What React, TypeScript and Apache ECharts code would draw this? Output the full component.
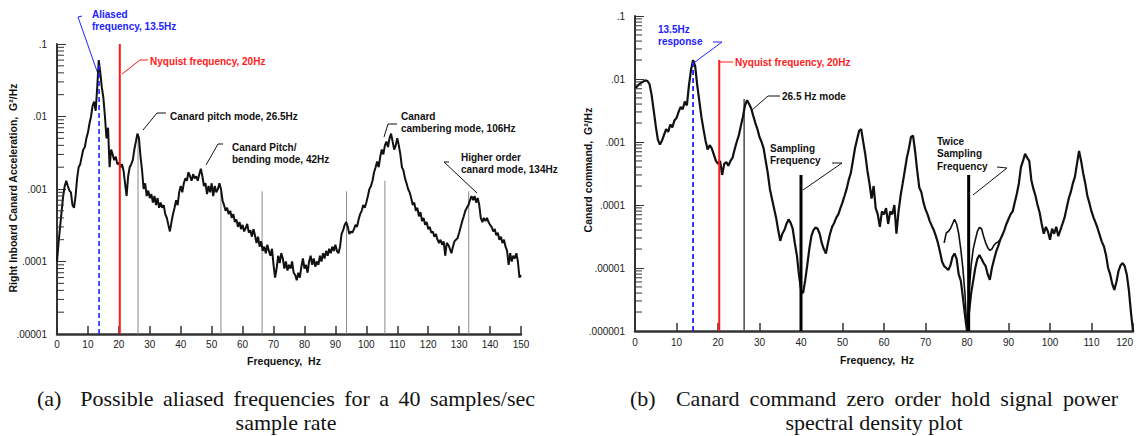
import React, { useEffect, useRef } from "react";
import * as echarts from "echarts";

// ---------------- DATA ----------------
// Uniform PSD frequency grid (Hz)
const FREQ_STEP = 0.5;

// (a) Right inboard canard acceleration PSD, G^2/Hz, 0..150 Hz every 0.5 Hz
const psdA = [
  1.0e-4, 1.8e-4, 3.0e-4, 5.0e-4, 8.0e-4, 1.1e-3, 1.3e-3, 1.1e-3, 9.5e-4, 9.0e-4, 6.0e-4, 5.5e-4, 8.0e-4, 1.4e-3, 2.0e-3, 2.2e-3, 2.8e-3, 3.5e-3, 3.8e-3, 5.0e-3, 6.0e-3,
  8.0e-3, 1.0e-2, 1.4e-2, 1.6e-2, 1.2e-2, 2.5e-2, 6.0e-2, 4.0e-2, 2.5e-2, 1.8e-2, 1.0e-2, 5.0e-3, 7.0e-3, 2.0e-3, 3.5e-3, 3.0e-3, 2.5e-3, 2.8e-3, 2.2e-3, 2.3e-3,
  2.0e-3, 2.2e-3, 1.8e-3, 1.2e-3, 8.0e-4, 1.5e-3, 2.0e-3, 2.2e-3, 2.5e-3, 3.5e-3, 4.5e-3, 5.8e-3, 5.0e-3, 2.8e-3, 1.8e-3, 1.0e-3, 1.2e-3, 8.0e-4, 9.5e-4, 7.5e-4,
  8.5e-4, 6.5e-4, 8.0e-4, 6.0e-4, 7.5e-4, 5.5e-4, 6.5e-4, 5.5e-4, 6.0e-4, 4.5e-4, 4.0e-4, 3.2e-4, 2.6e-4, 3.5e-4, 4.5e-4, 5.5e-4, 7.0e-4, 6.0e-4, 9.0e-4, 1.1e-3,
  9.0e-4, 1.2e-3, 1.4e-3, 1.3e-3, 1.7e-3, 1.5e-3, 1.3e-3, 1.6e-3, 1.4e-3, 1.5e-3, 1.3e-3, 1.6e-3, 1.9e-3, 1.5e-3, 1.1e-3, 1.2e-3, 8.5e-4, 1.1e-3, 9.0e-4, 1.2e-3,
  8.0e-4, 1.1e-3, 9.0e-4, 1.0e-3, 1.2e-3, 1.0e-3, 7.0e-4, 6.0e-4, 5.0e-4, 5.5e-4, 4.5e-4, 5.0e-4, 4.0e-4, 4.5e-4, 3.5e-4, 3.8e-4, 3.0e-4, 3.5e-4, 2.8e-4, 3.2e-4,
  2.6e-4, 2.9e-4, 3.3e-4, 2.5e-4, 2.7e-4, 2.2e-4, 2.8e-4, 2.3e-4, 1.8e-4, 2.2e-4, 1.6e-4, 1.9e-4, 1.4e-4, 1.6e-4, 1.3e-4, 1.7e-4, 1.4e-4, 1.2e-4, 1.5e-4, 9.0e-5,
  6.0e-5, 8.0e-5, 1.2e-4, 9.5e-5, 1.3e-4, 1.1e-4, 8.0e-5, 1.0e-4, 7.5e-5, 9.0e-5, 8.0e-5, 1.0e-4, 7.0e-5, 6.5e-5, 5.5e-5, 7.0e-5, 6.0e-5, 8.5e-5, 1.1e-4, 8.0e-5,
  9.0e-5, 7.0e-5, 1.0e-4, 1.2e-4, 9.0e-5, 1.1e-4, 8.5e-5, 1.0e-4, 9.0e-5, 1.2e-4, 1.0e-4, 1.3e-4, 1.1e-4, 1.4e-4, 1.2e-4, 1.5e-4, 1.3e-4, 1.6e-4, 1.4e-4, 1.7e-4,
  1.4e-4, 1.3e-4, 1.6e-4, 2.4e-4, 2.7e-4, 3.2e-4, 3.5e-4, 3.0e-4, 2.4e-4, 2.6e-4, 2.5e-4, 2.8e-4, 3.2e-4, 3.0e-4, 3.8e-4, 4.5e-4, 5.0e-4, 6.0e-4, 5.5e-4, 6.5e-4,
  8.0e-4, 1.0e-3, 1.1e-3, 1.3e-3, 1.7e-3, 2.0e-3, 2.4e-3, 2.0e-3, 2.8e-3, 3.5e-3, 3.0e-3, 4.0e-3, 4.5e-3, 3.8e-3, 5.0e-3, 5.8e-3, 4.5e-3, 3.5e-3, 4.0e-3, 5.0e-3,
  4.0e-3, 3.0e-3, 2.0e-3, 1.8e-3, 1.4e-3, 1.2e-3, 1.0e-3, 9.0e-4, 7.5e-4, 6.0e-4, 6.5e-4, 5.0e-4, 5.5e-4, 4.2e-4, 4.8e-4, 3.6e-4, 4.0e-4, 3.2e-4, 3.5e-4, 2.8e-4,
  3.0e-4, 2.5e-4, 2.6e-4, 2.2e-4, 2.4e-4, 2.0e-4, 1.8e-4, 2.0e-4, 1.7e-4, 1.9e-4, 1.2e-4, 1.8e-4, 1.7e-4, 1.5e-4, 1.3e-4, 1.6e-4, 1.9e-4, 2.0e-4, 2.1e-4, 2.5e-4,
  3.0e-4, 3.6e-4, 4.2e-4, 5.0e-4, 5.5e-4, 6.0e-4, 7.0e-4, 8.0e-4, 7.0e-4, 8.0e-4, 6.5e-4, 7.5e-4, 6.0e-4, 4.0e-4, 3.5e-4, 4.0e-4, 3.6e-4, 4.0e-4, 3.5e-4, 3.2e-4,
  3.0e-4, 2.6e-4, 2.8e-4, 2.3e-4, 2.5e-4, 2.0e-4, 2.2e-4, 1.8e-4, 2.0e-4, 1.6e-4, 1.4e-4, 9.0e-5, 1.3e-4, 1.0e-4, 1.2e-4, 1.1e-4, 1.3e-4, 1.0e-4, 6.0e-5, 6.5e-5,
];

// (b) Canard command PSD, 0..120 Hz every 0.5 Hz
const psdB = [
  7.1e-3, 7.6e-3, 8.3e-3, 8.7e-3, 9.1e-3, 9.5e-3, 9.3e-3, 8.3e-3, 5.6e-3, 3.2e-3, 1.8e-3, 1.1e-3, 9.1e-4, 1.05e-3, 1.3e-3, 1.6e-3, 1.45e-3, 1.9e-3, 1.7e-3, 2.2e-3, 2.4e-3,
  3.0e-3, 3.6e-3, 3.3e-3, 4.4e-3, 3.8e-3, 7.9e-3, 1.4e-2, 2.0e-2, 1.6e-2, 7.9e-3, 4.5e-3, 2.5e-3, 1.6e-3, 1.05e-3, 7.6e-4, 8.9e-4, 7.9e-4, 6.3e-4, 5.0e-4, 4.5e-4,
  5.0e-4, 3.0e-4, 4.5e-4, 4.8e-4, 4.2e-4, 5.0e-4, 5.6e-4, 7.6e-4, 1.0e-3, 1.26e-3, 1.8e-3, 2.5e-3, 3.8e-3, 4.6e-3, 4.0e-3, 3.4e-3, 2.6e-3, 2.0e-3, 1.6e-3, 1.2e-3,
  1.0e-3, 7.9e-4, 5.0e-4, 3.2e-4, 1.8e-4, 1.26e-4, 8.9e-5, 6.3e-5, 4.0e-5, 2.7e-5, 3.5e-5, 4.0e-5, 5.0e-5, 5.9e-5, 5.2e-5, 4.2e-5, 2.5e-5, 1.6e-5, 7.9e-6, 4.5e-6,
  4.0e-6, 6.3e-6, 1.1e-5, 2.0e-5, 3.2e-5, 4.0e-5, 4.4e-5, 4.2e-5, 3.5e-5, 2.5e-5, 2.0e-5, 1.7e-5, 2.5e-5, 3.5e-5, 4.5e-5, 5.2e-5, 6.3e-5, 7.1e-5, 8.9e-5, 1.1e-4,
  1.4e-4, 1.8e-4, 2.5e-4, 3.2e-4, 5.0e-4, 7.9e-4, 1.1e-3, 1.5e-3, 1.6e-3, 1.0e-3, 6.3e-4, 3.5e-4, 2.2e-4, 1.26e-4, 2.0e-4, 8.9e-5, 7.1e-5, 4.5e-5, 7.9e-5, 7.1e-5,
  8.9e-5, 5.0e-5, 7.9e-5, 7.1e-5, 1.0e-4, 3.5e-5, 7.9e-5, 1.4e-4, 2.2e-4, 3.5e-4, 5.6e-4, 7.9e-4, 1.2e-3, 1.26e-3, 7.1e-4, 3.5e-4, 1.9e-4, 1.6e-4, 1.1e-4, 8.5e-5,
  7.1e-5, 5.6e-5, 4.7e-5, 4.0e-5, 3.2e-5, 2.5e-5, 1.8e-5, 1.26e-5, 1.07e-5, 1.0e-5, 9.3e-6, 1.1e-5, 1.5e-5, 1.7e-5, 1.4e-5, 7.9e-6, 6.3e-6, 3.5e-6, 1.8e-6, 1.0e-6,
  2.0e-6, 4.0e-6, 6.3e-6, 1.0e-5, 1.4e-5, 1.6e-5, 1.4e-5, 1.2e-5, 1.07e-5, 7.9e-6, 6.5e-6, 1.0e-5, 1.35e-5, 1.8e-5, 2.2e-5, 2.8e-5, 3.3e-5, 4.0e-5, 5.0e-5, 6.0e-5,
  7.1e-5, 7.9e-5, 1.1e-4, 1.5e-4, 2.2e-4, 4.0e-4, 5.0e-4, 6.5e-4, 5.6e-4, 5.0e-4, 2.5e-4, 1.8e-4, 1.4e-4, 1.0e-4, 7.6e-5, 5.0e-5, 3.5e-5, 4.5e-5, 3.8e-5, 2.8e-5,
  4.2e-5, 3.5e-5, 4.5e-5, 3.2e-5, 4.0e-5, 5.0e-5, 6.3e-5, 8.9e-5, 1.26e-4, 1.6e-4, 2.2e-4, 2.8e-4, 4.5e-4, 7.2e-4, 5.0e-4, 3.2e-4, 2.2e-4, 1.4e-4, 1.07e-4, 7.9e-5,
  6.3e-5, 5.2e-5, 4.2e-5, 3.3e-5, 2.6e-5, 2.2e-5, 1.6e-5, 1.0e-5, 7.9e-6, 5.6e-6, 4.5e-6, 6.0e-6, 8.9e-6, 1.1e-5, 1.2e-5, 1.07e-5, 7.9e-6, 4.5e-6, 2.0e-6, 1.0e-6,
];

// (b) second, overlapping trace around twice the sampling frequency
const overlapFreqB = [74.5, 75, 75.5, 76, 76.5, 77, 77.5, 78, 78.5, 79, 79.5, 80, 80.5, 81, 81.5, 82, 82.5, 83, 83.5, 84, 84.5, 85, 85.5, 86, 86.5, 87, 87.5, 88];
const overlapPsdB = [2.5e-5, 3.6e-5, 3.8e-5, 4.2e-5, 5.0e-5, 5.9e-5, 5.0e-5, 3.5e-5, 2.0e-5, 1.0e-5, 4.0e-6, 1.0e-6, 4.0e-6, 1.1e-5, 2.0e-5, 2.8e-5, 3.8e-5, 4.4e-5, 4.2e-5, 3.2e-5, 2.5e-5, 2.1e-5, 1.9e-5, 2.0e-5, 2.3e-5, 2.5e-5, 2.6e-5, 2.8e-5];

// Reference frequencies (Hz) and the PSD level each marker line reaches
const aliasedFreqA = 13.6;
const aliasedTopA = 0.058;
const nyquistFreqA = 20.3;
const nyquistTopA = 0.1;
const aliasFreqsA = [26.2, 53, 66.3, 93.6, 106, 133.1];
const aliasTopsA = [5.7e-3, 9.0e-4, 9.3e-4, 9.3e-4, 1.3e-3, 9.3e-4];

const responseFreqB = 14;
const responseTopB = 0.02;
const nyquistFreqB = 20.3;
const nyquistTopB = 0.02;
const modeFreqB = 26.3;
const modeTopB = 4.8e-3;
const samplingFreqsB = [40, 80.4];
const samplingTopB = 3.0e-4;

// Axis tick labels
const xTicksA = [0, 10, 20, 30, 40, 50, 60, 70, 80, 90, 100, 110, 120, 130, 140, 150];
const xTicksB = [0, 10, 20, 30, 40, 50, 60, 70, 80, 90, 100, 110, 120];
const yTickLabelsA = [".00001", ".0001", ".001", ".01", ".1"]; // 1e-5 .. 1e-1
const yTickLabelsB = [".000001", ".00001", ".0001", ".001", ".01", ".1"]; // 1e-6 .. 1e-1

// Texts
const annotationsA = [
  { lines: ["Aliased", "frequency, 13.5Hz"], color: "blue" },
  { lines: ["Nyquist frequency, 20Hz"], color: "red" },
  { lines: ["Canard pitch mode, 26.5Hz"], color: "black" },
  { lines: ["Canard Pitch/", "bending mode, 42Hz"], color: "black" },
  { lines: ["Canard", "cambering mode, 106Hz"], color: "black" },
  { lines: ["Higher order", "canard mode, 134Hz"], color: "black" },
];
const annotationsB = [
  { lines: ["13.5Hz", "response"], color: "blue" },
  { lines: ["Nyquist frequency, 20Hz"], color: "red" },
  { lines: ["26.5 Hz mode"], color: "black" },
  { lines: ["Sampling", "Frequency"], color: "black" },
  { lines: ["Twice", "Sampling", "Frequency"], color: "black" },
];
const captionAWords = ["(a)", "Possible", "aliased", "frequencies", "for", "a", "40", "samples/sec"];
const captionALine2 = "sample rate";
const captionBWords = ["(b)", "Canard", "command", "zero", "order", "hold", "signal", "power"];
const captionBLine2 = "spectral density plot";

// ---------------- LAYOUT / STYLE ----------------
const W = 1137;
const H = 436;
const COLORS: Record<string, string> = { blue: "#2222ff", red: "#ff1a1a", black: "#111111" };
const SANS = '"Liberation Sans", Arial, sans-serif';
const SERIF = '"Liberation Serif", "Times New Roman", serif';
const CAPTION_FONT = `22px ${SERIF}`;

// anchor positions (px) of each annotation's first line, and its leader polyline
const annPosA = [
  { x: 92, y: 14, leader: [[82, 16], [78, 17], [98, 74]] },
  { x: 150, y: 61, leader: [[148, 60], [140, 60], [122, 74]] },
  { x: 170, y: 116, leader: [[166, 113], [157, 113], [143, 130]] },
  { x: 232, y: 147, leader: [[223, 144], [218, 144], [206, 165]] },
  { x: 401, y: 116, leader: [[397, 124], [388, 124], [384, 137]] },
  { x: 461, y: 157, leader: [[449, 162], [444, 162], [477, 193]] },
];
const annPosB = [
  { x: 658, y: 29, leader: [[713, 42], [722, 42], [695, 62]] },
  { x: 735, y: 62, leader: [[733, 62], [720, 62]] },
  { x: 782, y: 96, leader: [[780, 96], [768, 96], [752, 110]] },
  { x: 770, y: 148, leader: [[832, 163], [842, 163], [803, 190]] },
  { x: 937, y: 141, leader: [[997, 167], [1007, 168], [973, 195]] },
];

function decadeMinorTicks(lowExp: number, highExp: number): number[] {
  const out: number[] = [];
  for (let e = lowExp; e < highExp; e++) {
    for (let m = 2; m <= 9; m++) out.push(m * Math.pow(10, e));
  }
  return out;
}

function vline(gridIdx: number, f: number, y0: number, y1: number, lineStyle: any, z = 2) {
  return {
    type: "line",
    xAxisIndex: gridIdx,
    yAxisIndex: gridIdx,
    data: [[f, y0], [f, y1]],
    symbol: "none",
    silent: true,
    z,
    lineStyle,
  };
}

function xAxisCfg(gridIdx: number, max: number, margin: number) {
  return {
    gridIndex: gridIdx,
    type: "value",
    min: 0,
    max,
    interval: 10,
    axisLine: { show: true, onZero: false, lineStyle: { color: "#333", width: 2.5 } },
    axisTick: { show: true, inside: true, length: 8, lineStyle: { color: "#333", width: 1.5 } },
    axisLabel: {
      show: true,
      color: "#222",
      fontSize: 10,
      fontFamily: SANS,
      margin,
      showMinLabel: true,
      showMaxLabel: true,
      alignMaxLabel: gridIdx === 1 ? "right" : null,
    },
    splitLine: { show: false },
  };
}

function yAxisCfg(gridIdx: number, minV: number, labels: string[], minExp: number) {
  return {
    gridIndex: gridIdx,
    type: "log",
    logBase: 10,
    min: minV,
    max: 0.1,
    axisLine: { show: true, lineStyle: { color: "#333", width: 2 } },
    axisTick: { show: true, inside: true, length: 9, lineStyle: { color: "#333", width: 1 } },
    axisLabel: {
      show: true,
      color: "#222",
      fontSize: 10,
      fontFamily: SANS,
      margin: 10,
      showMinLabel: true,
      showMaxLabel: true,
      formatter: (v: number) => {
        const k = Math.round(Math.log10(v)) - minExp;
        return labels[k] ?? "";
      },
    },
    splitLine: { show: false },
  };
}

function annotationGraphics(anns: any[], pos: any[]) {
  const out: any[] = [];
  anns.forEach((a, i) => {
    const p = pos[i];
    a.lines.forEach((ln: string, j: number) => {
      out.push({
        type: "text",
        x: p.x,
        y: p.y + j * 12.5,
        silent: true,
        style: {
          text: ln,
          fill: COLORS[a.color],
          font: `bold 10px ${SANS}`,
          align: "left",
          verticalAlign: "middle",
          textAlign: "left",
          textVerticalAlign: "middle",
        },
      });
    });
    out.push({
      type: "polyline",
      silent: true,
      shape: { points: p.leader },
      style: { stroke: COLORS[a.color], lineWidth: 1, fill: null },
    });
  });
  return out;
}

function textEl(text: string, x: number, y: number, font: string, align = "center", rotation = 0) {
  return {
    type: "text",
    x,
    y,
    rotation,
    silent: true,
    style: {
      text,
      fill: "#111",
      font,
      align,
      verticalAlign: "middle",
      textAlign: align,
      textVerticalAlign: "middle",
    },
  };
}

// first caption line is justified between x0 and x1 (wider gap after the label)
function justifiedLine(words: string[], x0: number, x1: number, y: number, font: string) {
  const canvas = document.createElement("canvas");
  const ctx = canvas.getContext("2d") as CanvasRenderingContext2D;
  ctx.font = font;
  const widths = words.map((w) => ctx.measureText(w).width);
  const total = widths.reduce((s, w) => s + w, 0);
  const weights = words.slice(1).map((_, i) => (i === 0 ? 2 : 1));
  const unit = Math.max(0, (x1 - x0 - total) / weights.reduce((s, w) => s + w, 0));
  const out: any[] = [];
  let x = x0;
  words.forEach((w, i) => {
    out.push(textEl(w, x, y, font, "left"));
    x += widths[i] + (i < weights.length ? weights[i] * unit : 0);
  });
  return out;
}

export default function App() {
  const ref = useRef<HTMLDivElement>(null);

  useEffect(() => {
    if (!ref.current) return;
    const chart = echarts.init(ref.current, undefined, { renderer: "svg", width: W, height: H });

    const grayThin = { color: "#8a8a8a", width: 1 };

    const series: any[] = [
      ...aliasFreqsA.map((f, i) => vline(0, f, 1e-5, aliasTopsA[i], grayThin, 1)),
      vline(0, aliasedFreqA, 1e-5, aliasedTopA, { color: "#2222ff", width: 1.6, type: [5, 3] }, 4),
      vline(0, nyquistFreqA, 1e-5, nyquistTopA, { color: "#ff1a1a", width: 2 }, 4),
      {
        type: "line",
        xAxisIndex: 0,
        yAxisIndex: 0,
        data: psdA.map((v, i) => [i * FREQ_STEP, v]),
        symbol: "none",
        silent: true,
        z: 3,
        lineStyle: { color: "#111", width: 2 },
      },
      vline(1, modeFreqB, 1e-6, modeTopB, { color: "#555", width: 1.6 }, 1),
      ...samplingFreqsB.map((f) => vline(1, f, 1e-6, samplingTopB, { color: "#000", width: 3 }, 4)),
      vline(1, responseFreqB, 1e-6, responseTopB, { color: "#2222ff", width: 1.8, type: [5, 3] }, 4),
      vline(1, nyquistFreqB, 1e-6, nyquistTopB, { color: "#ff1a1a", width: 2 }, 4),
      {
        type: "line",
        xAxisIndex: 1,
        yAxisIndex: 1,
        data: psdB.map((v, i) => [i * FREQ_STEP, v]),
        symbol: "none",
        silent: true,
        z: 3,
        lineStyle: { color: "#111", width: 2.2 },
      },
      {
        type: "line",
        xAxisIndex: 1,
        yAxisIndex: 1,
        data: overlapFreqB.map((f, i) => [f, overlapPsdB[i]]),
        symbol: "none",
        silent: true,
        z: 3,
        lineStyle: { color: "#111", width: 1.6 },
      },
    ];

    chart.setOption({
      animation: false,
      backgroundColor: "#ffffff",
      grid: [
        { left: 57, top: 44, width: 464, height: 290, outerBoundsMode: "none", containLabel: false },
        { left: 635, top: 16, width: 498, height: 315, outerBoundsMode: "none", containLabel: false },
      ],
      xAxis: [xAxisCfg(0, xTicksA[xTicksA.length - 1], 5), xAxisCfg(1, xTicksB[xTicksB.length - 1], 6)],
      yAxis: [yAxisCfg(0, 1e-5, yTickLabelsA, -5), yAxisCfg(1, 1e-6, yTickLabelsB, -6)],
      series,
    });

    // minor log ticks on the y axes, placed through the chart's own scales
    const minorTicks: any[] = [];
    const addTicks = (gridIndex: number, values: number[]) => {
      values.forEach((v) => {
        const p = chart.convertToPixel({ gridIndex } as any, [0, v]) as number[];
        if (!p) return;
        minorTicks.push({
          type: "line",
          silent: true,
          z: 10,
          shape: { x1: p[0], y1: p[1], x2: p[0] + 7, y2: p[1] },
          style: { stroke: "#333", lineWidth: 1 },
        });
      });
    };
    addTicks(0, decadeMinorTicks(-5, -1));
    addTicks(1, decadeMinorTicks(-6, -1));

    const graphic: any[] = [
      ...minorTicks,
      ...annotationGraphics(annotationsA, annPosA),
      ...annotationGraphics(annotationsB, annPosB),
      textEl("Frequency,\u00a0\u00a0Hz", 284, 361, `bold 10.5px ${SANS}`),
      textEl("Frequency,\u00a0\u00a0Hz", 877, 360, `bold 10.5px ${SANS}`),
      textEl("Right Inboard Canard Acceleration,\u00a0\u00a0G\u00b2/Hz", 13, 188, `bold 10.5px ${SANS}`, "center", Math.PI / 2),
      textEl("Canard command,\u00a0\u00a0G\u00b2/Hz", 588, 170, `bold 10.5px ${SANS}`, "center", Math.PI / 2),
      ...justifiedLine(captionAWords, 37, 535, 398, CAPTION_FONT),
      textEl(captionALine2, 286, 422, CAPTION_FONT),
      ...justifiedLine(captionBWords, 630, 1118, 398, CAPTION_FONT),
      textEl(captionBLine2, 874, 422, CAPTION_FONT),
    ];

    chart.setOption({ graphic });

    return () => chart.dispose();
  }, []);

  return (
    <div
      ref={ref}
      style={{ position: "absolute", left: 0, top: 0, width: W, height: H, background: "#fff" }}
    />
  );
}
